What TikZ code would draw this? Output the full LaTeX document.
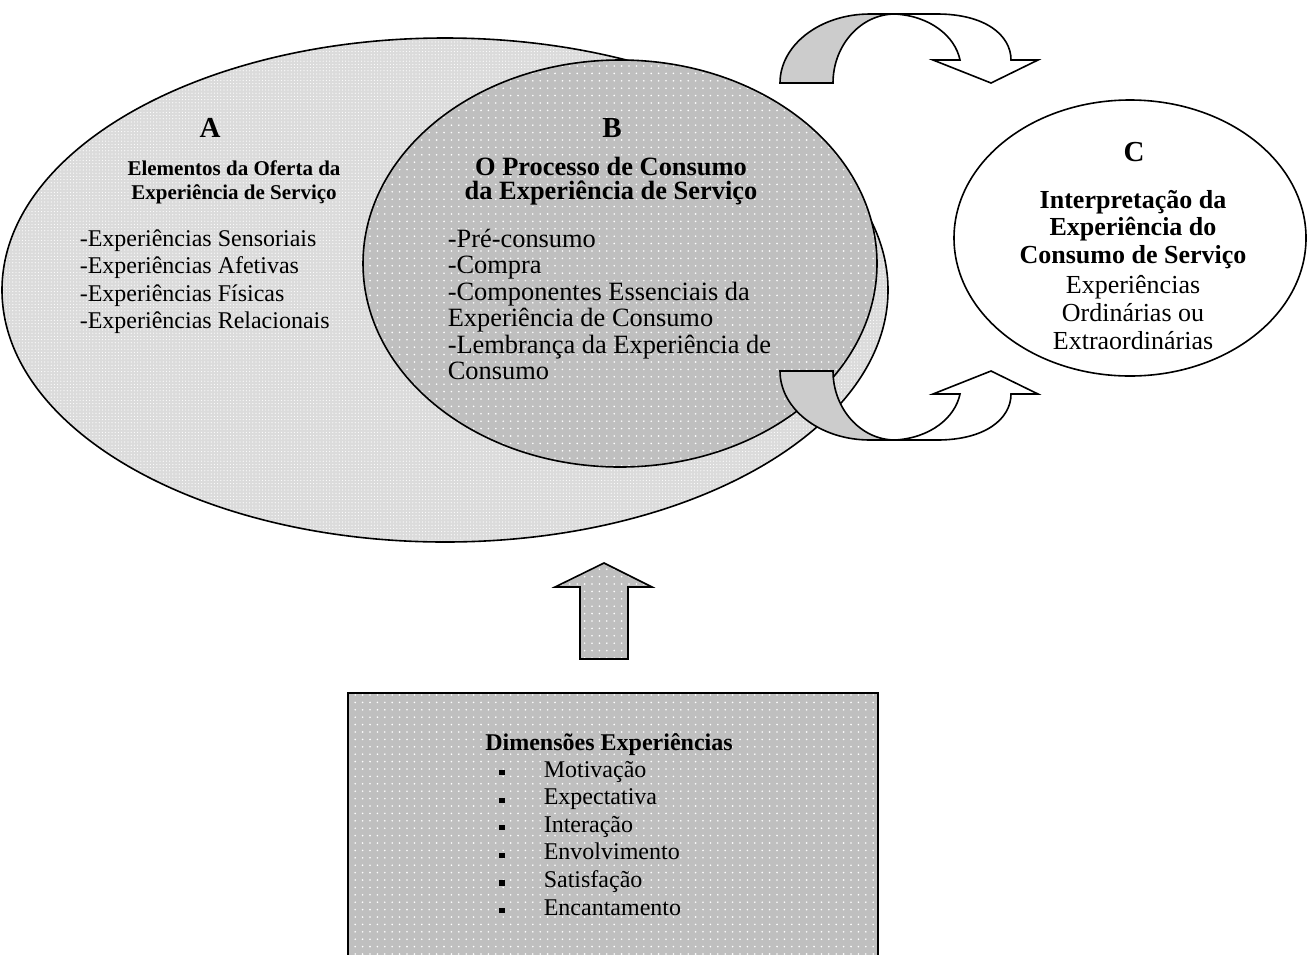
\documentclass[tikz,border=0pt]{standalone}
\usepackage{fontspec}
\setmainfont{Liberation Serif}
\usetikzlibrary{shapes.geometric,patterns.meta}

\begin{document}
\begin{tikzpicture}[x=0.5pt,y=-0.5pt,line width=0.8pt,
  finedots/.style={preaction={fill=black!14},pattern={Dots[distance=1.6pt,radius=0.3pt]},pattern color=white},
  coarsedots/.style={preaction={fill=black!25},pattern={Dots[distance=3.7pt,radius=0.45pt]},pattern color=white},
  oval/.style n args={2}{ellipse,draw,inner sep=0,minimum width=#1,minimum height=#2},
  band/.style={draw,line join=miter},
  ltr/.style={anchor=base,inner sep=0,font=\fontsize{14.5}{16}\selectfont\bfseries},
  hda/.style={anchor=base,inner sep=0,font=\fontsize{10.5}{12}\selectfont\bfseries},
  hdb/.style={anchor=base,inner sep=0,font=\fontsize{13.2}{14}\selectfont\bfseries},
  hdc/.style={anchor=base,inner sep=0,font=\fontsize{13}{14}\selectfont\bfseries},
  txc/.style={anchor=base,inner sep=0,font=\fontsize{13}{14}\selectfont},
  itm/.style={anchor=base west,inner sep=0,font=\fontsize{12}{14}\selectfont},
  itmb/.style={anchor=base west,inner sep=0,font=\fontsize{13.2}{14}\selectfont},
  sq/.style={fill=black,inner sep=0,minimum size=2.6pt}]
\useasboundingbox (0,0) rectangle (1310,954);

\node[oval={443pt}{252pt},finedots] (A) at (445,290) {};
\node[oval={257pt}{203.5pt},coarsedots] (B) at (620,263.5) {};
\node[oval={176pt}{138pt},fill=white] (C) at (1130,238) {};

\foreach \sh/\sc in {0/1,454/-1} {
\begin{scope}[shift={(0,\sh)},yscale=\sc]
\draw[band,fill=black!20] (780,83) .. controls (780,45) and (820,14) .. (870,14) -- (895,14)
   .. controls (861,14) and (833,45) .. (833,83) -- cycle;
\draw[band,fill=white] (895,14) -- (937,14) .. controls (985,14) and (1011,35) .. (1011,60)
   -- (1038,60) -- (991,83) -- (933,60) -- (960,60) .. controls (955,36) and (930,16) .. (895,14) -- cycle;
\end{scope}
}

\draw[coarsedots,draw] (580,659) -- (580,587) -- (555,587) -- (604,563) -- (652,587)
   -- (628,587) -- (628,659) -- cycle;
\node[draw,coarsedots,anchor=north west,minimum width=265pt,minimum height=140pt] (dim) at (347,692) {};

\node[ltr] (la) at (210,137) {A};
\foreach \i/\t in {1/Elementos da Oferta da,2/Experiência de Serviço} {
   \node[hda] (ha\i) at (234,151+24*\i) {\t};
}
\foreach \i/\t in {1/-Experiências Sensoriais,2/-Experiências Afetivas,3/-Experiências Físicas,4/-Experiências Relacionais} {
   \node[itm] (a\i) at (79,218.5+27.5*\i) {\t};
}

\node[ltr] (lb) at (612,137) {B};
\foreach \i/\t in {1/O Processo de Consumo,2/da Experiência de Serviço} {
   \node[hdb] (hb\i) at (611,151+24*\i) {\t};
}
\foreach \i/\t in {1/-Pré-consumo,2/-Compra,3/-Componentes Essenciais da,4/Experiência de Consumo,5/-Lembrança da Experiência de,6/Consumo} {
   \node[itmb] (b\i) at (447,220.5+26.5*\i) {\t};
}

\node[ltr] (lc) at (1134,161) {C};
\foreach \i/\t in {1/Interpretação da,2/Experiência do,3/Consumo de Serviço} {
   \node[hdc] (hc\i) at (1133,180.5+27.5*\i) {\t};
}
\foreach \i/\t in {1/Experiências,2/Ordinárias ou,3/Extraordinárias} {
   \node[txc] (c\i) at (1133,265+28*\i) {\t};
}

\node[hda,font=\fontsize{12}{14}\selectfont\bfseries] (hd) at (609,750) {Dimensões Experiências};
\foreach \i/\t in {1/Motivação,2/Expectativa,3/Interação,4/Envolvimento,5/Satisfação,6/Encantamento} {
   \node[sq] (m\i) at (502,744.9+27.6*\i) {};
   \node[itm] (d\i) at (543,749.4+27.6*\i) {\t};
}
\end{tikzpicture}
\end{document}
